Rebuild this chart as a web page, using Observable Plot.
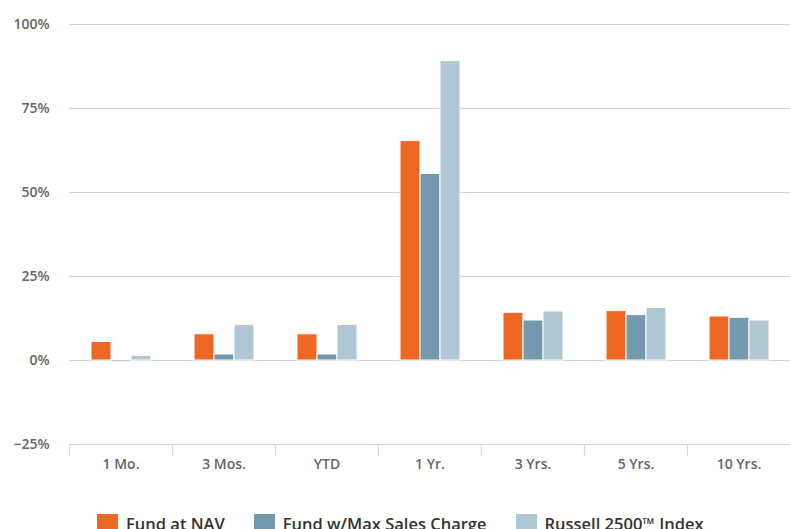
<!DOCTYPE html>
<html>
<head>
<meta charset="utf-8">
<script src="https://cdn.jsdelivr.net/npm/d3@7"></script>
<script src="https://cdn.jsdelivr.net/npm/@observablehq/plot@0.6"></script>
<style>
  html, body { margin: 0; padding: 0; background: #fff; }
  body { width: 791px; height: 529px; overflow: hidden; font-family: "Open Sans", sans-serif; }
  #chart svg text { font-weight: 600; }
  .legend { display: flex; align-items: flex-start; margin-left: 97px; margin-top: 24px; }
  .item { display: flex; align-items: flex-start; margin-right: 29px; }
  .sw { width: 21px; height: 16px; margin-right: 8px; }
  .lab { font-size: 16.5px; line-height: 15px; font-weight: 600; color: #333; margin-top: 1.5px; white-space: nowrap; }
</style>
</head>
<body>
<div id="chart"></div>
<div class="legend" id="legend"></div>
<script>
const categories = ["1 Mo.", "3 Mos.", "YTD", "1 Yr.", "3 Yrs.", "5 Yrs.", "10 Yrs."];
const series = ["Fund at NAV", "Fund w/Max Sales Charge", "Russell 2500™ Index"];
const navValues = [5.5, 7.8, 7.8, 65.3, 14.2, 14.7, 13.1];
const maxChargeValues = [-0.5, 1.8, 1.8, 55.5, 11.9, 13.5, 12.7];
const russellValues = [1.4, 10.6, 10.6, 89.1, 14.6, 15.6, 11.9];
const yTicks = [-25, 0, 25, 50, 75, 100];
const colors = ["#ef6823", "#7499ae", "#afc7d3"];

const seriesValues = [navValues, maxChargeValues, russellValues];
const data = [];
categories.forEach((c, i) => {
  series.forEach((s, j) => data.push({category: c, series: s, value: seriesValues[j][i]}));
});

const W = 791, H = 490, ML = 68, MR = 0;
const bandW = (W - ML - MR) / categories.length;

const chart = Plot.plot({
  width: W,
  height: H,
  marginLeft: ML,
  marginRight: MR,
  marginTop: 24,
  marginBottom: 46,
  style: {fontFamily: "'Open Sans', sans-serif", fontSize: "14px", color: "#666", background: "#fff"},
  fx: {domain: categories, padding: 0, label: null},
  x: {domain: series, paddingInner: 0, paddingOuter: 1, axis: null, label: null},
  y: {domain: [-25, 100], label: null},
  color: {domain: series, range: colors},
  marks: [
    Plot.ruleY(yTicks.filter(d => d > -25), {stroke: "#d3d3d3", strokeWidth: 1}),
    Plot.ruleY([-25], {stroke: "#ccd6eb", strokeWidth: 1}),
    Plot.barY(data, {fx: "category", x: "series", y: "value", fill: "series", stroke: "#fff", strokeWidth: 1}),
    Plot.axisY({ticks: yTicks, tickSize: 0, tickPadding: 20, tickFormat: d => (d < 0 ? "\u2212" + Math.abs(d) : d) + "%", fill: "#666", fontSize: 14, label: null}),
    Plot.axisFx({anchor: "bottom", tickSize: 0, tickPadding: 15, fill: "#666", fontSize: 14, label: null}),
    Plot.axisFx({anchor: "bottom", tickSize: 12, dx: -bandW / 2, stroke: "#ccd6eb", tickFormat: () => "", label: null})
  ]
});
document.getElementById("chart").appendChild(chart);

const legend = document.getElementById("legend");
series.forEach((s, i) => {
  const item = document.createElement("div");
  item.className = "item";
  const sw = document.createElement("div");
  sw.className = "sw";
  sw.style.background = colors[i];
  const lab = document.createElement("span");
  lab.className = "lab";
  lab.textContent = s;
  item.appendChild(sw);
  item.appendChild(lab);
  legend.appendChild(item);
});
</script>
</body>
</html>
